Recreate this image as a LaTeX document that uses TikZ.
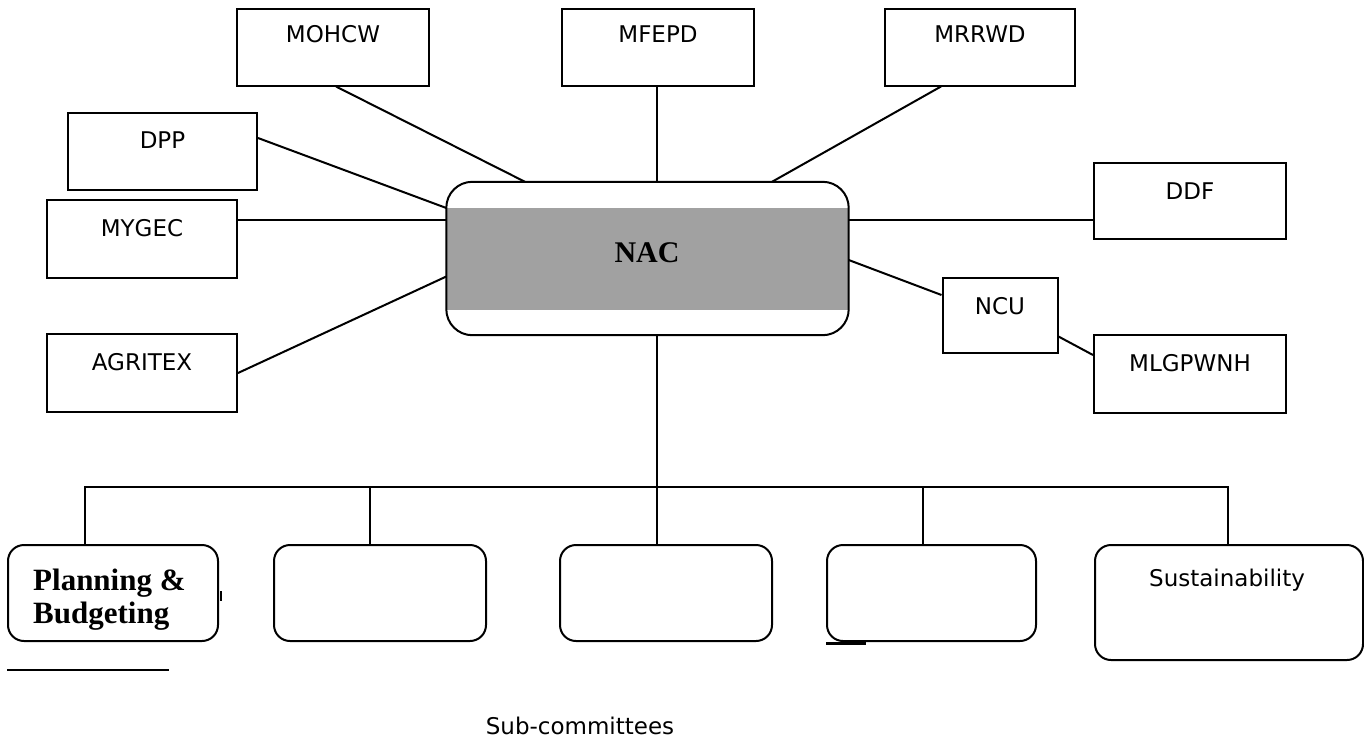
\documentclass[tikz,border=0pt]{standalone}
\usepackage{fontspec}
\setmainfont{Liberation Serif}
\newfontfamily\tah{DejaVu Sans}
\begin{document}
\begin{tikzpicture}[x=1pt,y=-1pt,
  box/.style={draw,line width=2pt,minimum width=190pt,minimum height=77pt,inner sep=0pt},
  rbox/.style={draw,line width=2pt,rounded corners=16pt,minimum height=96pt,inner sep=0pt},
  lbl/.style={font=\tah\fontsize{23}{27}\selectfont,anchor=base,inner sep=0pt},
  sbl/.style={font=\bfseries\fontsize{31}{35}\selectfont,anchor=base west,inner sep=0pt},
  conn/.style={line width=2pt}]
\useasboundingbox (0,0) rectangle (1364,742);

% top boxes
\node[box,minimum width=192pt] (mohcw) at (333,47) {};
\node[box,minimum width=192pt] (mfepd) at (658,47) {};
\node[box] (mrrwd) at (980,47) {};
\node[box,minimum width=189pt] (dpp) at (162.5,151.5) {};
\node[box,minimum height=78pt] (mygec) at (142,239) {};
\node[box,minimum height=78pt] (agritex) at (142,373) {};
\node[box,minimum width=192pt,minimum height=76pt] (ddf) at (1190,201) {};
\node[box,minimum width=115pt,minimum height=75pt] (ncu) at (1000,315.5) {};
\node[box,minimum width=192pt,minimum height=78pt] (mlg) at (1190,374) {};

\node[lbl] (tmohcw) at ([yshift=-35pt]mohcw.north) {MOHCW};
\node[lbl] (tmfepd) at ([yshift=-35pt]mfepd.north) {MFEPD};
\node[lbl] (tmrrwd) at ([yshift=-35pt]mrrwd.north) {MRRWD};
\node[lbl] (tdpp) at ([yshift=-36pt]dpp.north) {DPP};
\node[lbl] (tmygec) at ([yshift=-37pt]mygec.north) {MYGEC};
\node[lbl] (tagritex) at ([yshift=-37pt]agritex.north) {AGRITEX};
\node[lbl] (tddf) at ([yshift=-37pt]ddf.north) {DDF};
\node[lbl] (tncu) at ([yshift=-37pt]ncu.north) {NCU};
\node[lbl] (tmlg) at ([yshift=-37pt]mlg.north) {MLGPWNH};

% NAC
\node[minimum width=402pt,minimum height=153pt,inner sep=0pt] (nac) at (647.5,258.5) {};
\begin{scope}
  \clip[rounded corners=26pt] (nac.south west) rectangle (nac.north east);
  \fill[black!37] ([yshift=-26pt]nac.north west) rectangle ([yshift=25pt]nac.south east);
\end{scope}
\draw[line width=2pt,rounded corners=26pt] (nac.south west) rectangle (nac.north east);
\node[font=\bfseries\fontsize{30}{34}\selectfont,anchor=base,inner sep=0pt] (tnac) at (647,262) {NAC};

% bottom boxes
\node[rbox,minimum width=210pt] (b1) at (113,593) {};
\node[rbox,minimum width=212pt] (b2) at (380,593) {};
\node[rbox,minimum width=212pt] (b3) at (666,593) {};
\node[rbox,minimum width=209pt] (b4) at (931.5,593) {};
\node[rbox,minimum width=268pt,minimum height=115pt] (b5) at (1229,602.5) {};

\node[sbl] (tpb1) at (33,590) {Planning \&};
\node[sbl] (tpb2) at (33,623) {Budgeting};
\node[lbl] (tsus) at (1227,586) {Sustainability};
\node[lbl] (tsub) at (580,734) {Sub-committees};

% connectors
\draw[conn] ([xshift=3pt]mohcw.south) -- ([xshift=-122.5pt]nac.north);
\draw[conn] ([xshift=-1pt]mfepd.south) -- ([xshift=-1pt]mfepd.south |- nac.north);
\draw[conn] ([xshift=-39pt]mrrwd.south) -- ([xshift=124.5pt]nac.north);
\draw[conn] ([yshift=13.5pt]dpp.east) -- ([yshift=50.5pt]nac.west);
\draw[conn] ([yshift=19pt]mygec.east) coordinate (myg) -- (myg -| nac.west);
\draw[conn] (agritex.east) -- ([yshift=-18pt]nac.west);
\draw[conn] ([yshift=-19pt]ddf.west) coordinate (ddfc) -- (ddfc -| nac.east);
\draw[conn] ([yshift=-1.5pt]nac.east) -- ([yshift=20.5pt]ncu.west);
\draw[conn] ([yshift=-21pt]ncu.east) -- ([yshift=19pt]mlg.west);

\coordinate (tk) at (0,487);
\draw[conn] ([xshift=9.5pt]nac.south) -- ([xshift=-9pt]b3.north);
\draw[conn] ([xshift=-28pt]b1.north) -- ([xshift=-28pt]b1.north |- tk)
  -- ([xshift=-1pt]b5.north |- tk) -- ([xshift=-1pt]b5.north);
\draw[conn] ([xshift=-10pt]b2.north) -- ([xshift=-10pt]b2.north |- tk);
\draw[conn] ([xshift=-8.5pt]b4.north) -- ([xshift=-8.5pt]b4.north |- tk);

% stray marks
\draw[line width=2.4pt] ([yshift=-28pt]b1.south west) -- ([yshift=-28pt,xshift=162pt]b1.south west);
\draw[line width=3pt] ([yshift=-1pt]b4.south west) -- ([yshift=-1pt,xshift=40pt]b4.south west);
\draw[line width=2.5pt] ([yshift=2pt,xshift=2pt]b1.east) -- ([yshift=-8pt,xshift=2pt]b1.east);
\end{tikzpicture}
\end{document}
